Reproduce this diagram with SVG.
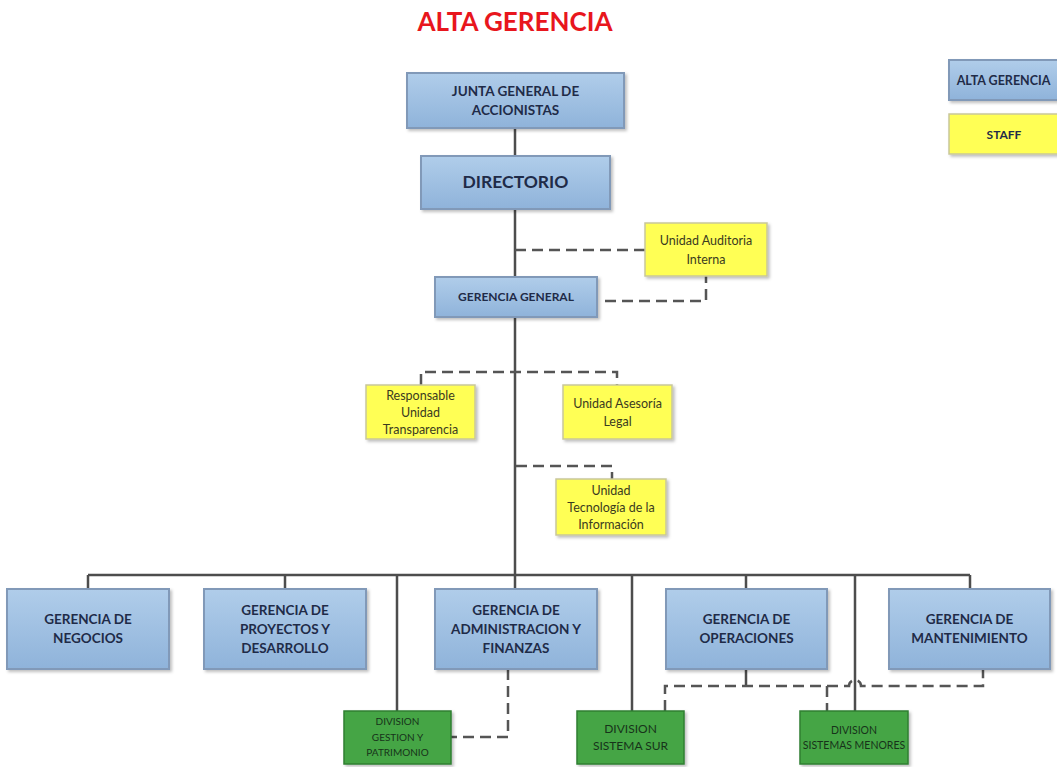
<svg xmlns="http://www.w3.org/2000/svg" width="1057" height="767" viewBox="0 0 1057 767">
<defs>
<linearGradient id="gBlue" x1="0" y1="0" x2="0" y2="1">
<stop offset="0" stop-color="#b0cdea"/>
<stop offset="1" stop-color="#8fb3da"/>
</linearGradient>
<filter id="sh" x="-10%" y="-10%" width="130%" height="140%">
<feDropShadow dx="2" dy="2" stdDeviation="1.5" flood-color="#000" flood-opacity="0.25"/>
</filter>
<style>
.blue{fill:url(#gBlue);stroke:#8199b8;stroke-width:2;filter:url(#sh)}
.yel{fill:#ffff55;stroke:#c9c79a;stroke-width:1.5;filter:url(#sh)}
.grn{fill:#45a545;stroke:#2f7f32;stroke-width:1.5;filter:url(#sh)}
.t{font-family:Lato,"Liberation Sans",sans-serif;font-weight:bold;fill:#1f2b48;text-anchor:middle}
.ty{font-family:Lato,"Liberation Sans",sans-serif;font-size:12.5px;fill:#3b3b1f;text-anchor:middle}
.tg{font-family:Lato,"Liberation Sans",sans-serif;fill:#17331a;text-anchor:middle}
.ln{fill:none;stroke:#4d4d4d;stroke-width:2.5}
.ds{fill:none;stroke:#555;stroke-width:2.5;stroke-dasharray:11 6}
</style>
</defs>
<rect width="1057" height="767" fill="#fff"/>
<text x="515" y="31" font-family="Lato,'Liberation Sans',sans-serif" font-weight="bold" font-size="26" fill="#e8161d" text-anchor="middle">ALTA GERENCIA</text>

<g id="connectors">
<path class="ln" d="M515 128V156M515 209V277M515 317V575M88 575H970M88 575V589M285 575V589M397 575V711M515 575V589M632 575V711M746 575V589M855 575V711M970 575V589M746 669V686"/>
<path class="ds" d="M515 250H645"/>
<path class="ds" d="M605 301H706V276"/>
<path class="ds" d="M421 385V372H617V385"/>
<path class="ds" d="M516 466H612V479"/>
<path class="ds" d="M508 669V737H451"/>
<path class="ds" d="M665 711V686H849A6 6 0 0 1 861 686H983V669"/>
<path class="ds" d="M827 686V711"/>
</g>

<g id="junta"><rect class="blue" x="407" y="73" width="217" height="55"/>
<text class="t" font-size="13.5" x="515.5" y="96">JUNTA GENERAL DE</text>
<text class="t" font-size="13.5" x="515.5" y="115">ACCIONISTAS</text></g>

<g id="directorio"><rect class="blue" x="421" y="156" width="189" height="53"/>
<text class="t" font-size="17.5" x="515.5" y="188">DIRECTORIO</text></g>

<g id="auditoria"><rect class="yel" x="645" y="223" width="122" height="53"/>
<text class="ty" font-size="13" x="706" y="244.5">Unidad Auditoria</text>
<text class="ty" font-size="13" x="706" y="263.5">Interna</text></g>

<g id="gerencia-general"><rect class="blue" x="435" y="277" width="162" height="40"/>
<text class="t" font-size="12" x="516" y="301">GERENCIA GENERAL</text></g>

<g id="responsable"><rect class="yel" x="366" y="385" width="109" height="54"/>
<text class="ty" x="420.5" y="399.5">Responsable</text>
<text class="ty" x="420.5" y="416.5">Unidad</text>
<text class="ty" x="420.5" y="433.5">Transparencia</text></g>

<g id="asesoria"><rect class="yel" x="563" y="385" width="109" height="54"/>
<text class="ty" x="617.5" y="408">Unidad Asesoría</text>
<text class="ty" x="617.5" y="425.5">Legal</text></g>

<g id="tecnologia"><rect class="yel" x="556" y="479" width="110" height="56"/>
<text class="ty" x="611" y="494.5">Unidad</text>
<text class="ty" x="611" y="511.5">Tecnología de la</text>
<text class="ty" x="611" y="528.5">Información</text></g>

<g id="negocios"><rect class="blue" x="7" y="589" width="162" height="80"/>
<text class="t" font-size="13.5" x="88" y="624">GERENCIA DE</text>
<text class="t" font-size="13.5" x="88" y="643">NEGOCIOS</text></g>

<g id="proyectos"><rect class="blue" x="204" y="589" width="162" height="80"/>
<text class="t" font-size="13.5" x="285" y="615">GERENCIA DE</text>
<text class="t" font-size="13.5" x="285" y="634">PROYECTOS Y</text>
<text class="t" font-size="13.5" x="285" y="653">DESARROLLO</text></g>

<g id="administracion"><rect class="blue" x="435" y="589" width="162" height="80"/>
<text class="t" font-size="13.5" x="516" y="615">GERENCIA DE</text>
<text class="t" font-size="13.5" x="516" y="634">ADMINISTRACION Y</text>
<text class="t" font-size="13.5" x="516" y="653">FINANZAS</text></g>

<g id="operaciones"><rect class="blue" x="666" y="589" width="161" height="80"/>
<text class="t" font-size="13.5" x="746.5" y="624">GERENCIA DE</text>
<text class="t" font-size="13.5" x="746.5" y="643">OPERACIONES</text></g>

<g id="mantenimiento"><rect class="blue" x="889" y="589" width="161" height="80"/>
<text class="t" font-size="13.5" x="969.5" y="624">GERENCIA DE</text>
<text class="t" font-size="13.5" x="969.5" y="643">MANTENIMIENTO</text></g>

<g id="gestion"><rect class="grn" x="344" y="711" width="107" height="53"/>
<text class="tg" font-size="10" x="397.5" y="725">DIVISION</text>
<text class="tg" font-size="10" x="397.5" y="740.5">GESTION Y</text>
<text class="tg" font-size="10" x="397.5" y="756">PATRIMONIO</text></g>

<g id="sistema-sur"><rect class="grn" x="577" y="711" width="107" height="53"/>
<text class="tg" font-size="12" x="630.5" y="733">DIVISION</text>
<text class="tg" font-size="12" x="630.5" y="750">SISTEMA SUR</text></g>

<g id="sistemas-menores"><rect class="grn" x="800" y="711" width="108" height="53"/>
<text class="tg" font-size="10.5" x="854" y="734">DIVISION</text>
<text class="tg" font-size="10.5" x="854" y="749">SISTEMAS MENORES</text></g>

<g id="legend-alta"><rect class="blue" x="949" y="60" width="112" height="40"/>
<text class="t" font-size="12.5" x="1003.5" y="84.5">ALTA GERENCIA</text></g>
<g id="legend-staff"><rect class="yel" x="949" y="114" width="112" height="40"/>
<text class="t" font-size="12" x="1004" y="138.5" fill="#3b3b1f">STAFF</text></g>
</svg>
